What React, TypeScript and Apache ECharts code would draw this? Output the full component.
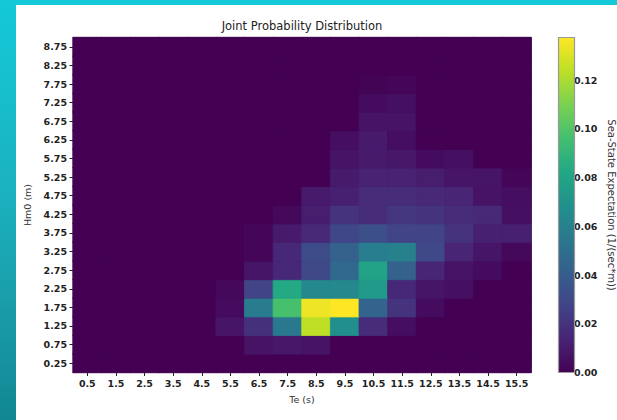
import React, { useEffect, useRef } from "react";
import * as echarts from "echarts";

// Te (s) categories
const teCats = ["0.5", "1.5", "2.5", "3.5", "4.5", "5.5", "6.5", "7.5", "8.5", "9.5", "10.5", "11.5", "12.5", "13.5", "14.5", "15.5"];
// Hm0 (m) categories
const hmCats = ["0.25", "0.75", "1.25", "1.75", "2.25", "2.75", "3.25", "3.75", "4.25", "4.75", "5.25", "5.75", "6.25", "6.75", "7.25", "7.75", "8.25", "8.75"];

// Sea-state expectation per Hm0 row (columns follow teCats)
const hm025 = [0, 0, 0, 0, 0, 0, 0, 0, 0, 0, 0, 0, 0, 0, 0, 0];
const hm075 = [0, 0, 0, 0, 0, 0, 0.007, 0.009, 0.007, 0, 0, 0, 0, 0, 0, 0];
const hm125 = [0, 0, 0, 0, 0, 0.008, 0.019, 0.055, 0.124, 0.068, 0.017, 0.005, 0, 0, 0, 0];
const hm175 = [0, 0, 0, 0, 0, 0.004, 0.057, 0.097, 0.134, 0.1375, 0.044, 0.02, 0.004, 0, 0, 0];
const hm225 = [0, 0, 0, 0, 0, 0.003, 0.028, 0.083, 0.064, 0.064, 0.074, 0.015, 0.008, 0.006, 0, 0];
const hm275 = [0, 0, 0, 0, 0, 0, 0.008, 0.015, 0.03, 0.047, 0.079, 0.043, 0.014, 0.007, 0.004, 0];
const hm325 = [0, 0, 0, 0, 0, 0, 0.002, 0.015, 0.031, 0.043, 0.058, 0.06, 0.03, 0.014, 0.008, 0.003];
const hm375 = [0, 0, 0, 0, 0, 0, 0.002, 0.01, 0.016, 0.029, 0.033, 0.028, 0.028, 0.02, 0.012, 0.012];
const hm425 = [0, 0, 0, 0, 0, 0, 0, 0.003, 0.011, 0.02, 0.017, 0.022, 0.02, 0.017, 0.016, 0.006];
const hm475 = [0, 0, 0, 0, 0, 0, 0, 0, 0.01, 0.012, 0.017, 0.017, 0.016, 0.014, 0.007, 0.005];
const hm525 = [0, 0, 0, 0, 0, 0, 0, 0, 0, 0.01, 0.013, 0.013, 0.011, 0.008, 0.008, 0.002];
const hm575 = [0, 0, 0, 0, 0, 0, 0, 0, 0, 0.007, 0.01, 0.009, 0.004, 0.006, 0, 0];
const hm625 = [0, 0, 0, 0, 0, 0, 0, 0, 0, 0.005, 0.01, 0.005, 0, 0, 0, 0];
const hm675 = [0, 0, 0, 0, 0, 0, 0, 0, 0, 0, 0.007, 0.007, 0, 0, 0, 0];
const hm725 = [0, 0, 0, 0, 0, 0, 0, 0, 0, 0, 0.004, 0.006, 0, 0, 0, 0];
const hm775 = [0, 0, 0, 0, 0, 0, 0, 0, 0, 0, 0.001, 0.002, 0, 0, 0, 0];
const hm825 = [0, 0, 0, 0, 0, 0, 0, 0, 0, 0, 0, 0, 0, 0, 0, 0];
const hm875 = [0, 0, 0, 0, 0, 0, 0, 0, 0, 0, 0, 0, 0, 0, 0, 0];

const rows = [hm025, hm075, hm125, hm175, hm225, hm275, hm325, hm375, hm425, hm475, hm525, hm575, hm625, hm675, hm725, hm775, hm825, hm875];

// colour bar
const cbMin = 0;
const cbMax = 0.1375;
const cbTicks = [0, 0.02, 0.04, 0.06, 0.08, 0.1, 0.12];
const viridis = ["#440154", "#482475", "#414487", "#355f8d", "#2a788e", "#21918c", "#22a884", "#44bf70", "#7ad151", "#bddf26", "#fde725"];

const FONT = "DejaVu Sans";

export default function App() {
  const ref = useRef<HTMLDivElement>(null);

  useEffect(() => {
    if (!ref.current) return;
    const chart = echarts.init(ref.current, null, { renderer: "svg" });

    const data: any[] = [];
    rows.forEach((row, yi) =>
      row.forEach((v, xi) => {
        const t = Math.max(0, Math.min(1, (v - cbMin) / (cbMax - cbMin)));
        const edge = echarts.color.lerp(t, viridis);
        data.push({ value: [xi, yi, v], itemStyle: { borderColor: edge, borderWidth: 0.8 } });
      })
    );

    const plot = { left: 73, top: 37.5, width: 458, height: 335 };
    const cb = { left: 558.5, top: 37.5, width: 16, height: 335 };

    const tickLabel = { fontFamily: FONT, fontWeight: "bold" as const, fontSize: 9.5, color: "#222" };
    const nameStyle = { fontFamily: FONT, fontSize: 9.5, color: "#333" };
    const edgeLine = { show: true, lineStyle: { color: "#555", width: 1 } };

    chart.setOption({
      animation: false,
      backgroundColor: "transparent",
      title: {
        text: "Joint Probability Distribution",
        left: plot.left + plot.width / 2,
        textAlign: "center",
        top: 20,
        padding: 0,
        textStyle: { fontFamily: FONT, fontSize: 11.5, fontWeight: "normal", color: "#222" },
      },
      grid: [
        { ...plot, show: true, backgroundColor: viridis[0], borderWidth: 0 },
        { ...cb },
      ],
      xAxis: [
        {
          type: "category",
          gridIndex: 0,
          data: teCats,
          axisLine: edgeLine,
          axisTick: { show: true, alignWithLabel: true, length: 3.5, lineStyle: { color: "#222" } },
          axisLabel: { ...tickLabel, margin: 6, interval: 0 },
          splitLine: { show: false },
          name: "Te (s)",
          nameLocation: "middle",
          nameGap: 22,
          nameTextStyle: nameStyle,
        },
        {
          type: "category",
          gridIndex: 0,
          position: "top",
          data: teCats,
          axisLine: edgeLine,
          axisTick: { show: false },
          axisLabel: { show: false },
        },
        { type: "value", gridIndex: 1, show: false, min: 0, max: 1 },
      ],
      yAxis: [
        {
          type: "category",
          gridIndex: 0,
          data: hmCats,
          axisLine: edgeLine,
          axisTick: { show: true, alignWithLabel: true, length: 3.5, lineStyle: { color: "#222" } },
          axisLabel: { ...tickLabel, margin: 6, interval: 0 },
          splitLine: { show: false },
          name: "Hm0 (m)",
          nameLocation: "middle",
          nameGap: 28,
          nameTextStyle: nameStyle,
        },
        {
          type: "category",
          gridIndex: 0,
          position: "right",
          data: hmCats,
          axisLine: edgeLine,
          axisTick: { show: false },
          axisLabel: { show: false },
        },
        {
          type: "value",
          gridIndex: 1,
          position: "right",
          min: cbMin,
          max: cbMax,
          axisLine: { show: false },
          axisTick: { show: true, length: 3.5, customValues: cbTicks, lineStyle: { color: "#222" } },
          axisLabel: {
            ...tickLabel,
            margin: 6,
            customValues: cbTicks,
            formatter: (v: number) => v.toFixed(2),
          },
          splitLine: { show: false },
          name: "Sea-State Expectation (1/(sec*m))",
          nameLocation: "middle",
          nameRotate: -90,
          nameGap: 38,
          nameTextStyle: { ...nameStyle, fontSize: 10 },
        },
      ],
      visualMap: {
        show: false,
        type: "continuous",
        min: cbMin,
        max: cbMax,
        seriesIndex: 0,
        inRange: { color: viridis },
      },
      graphic: [
        {
          type: "rect",
          z: 10,
          shape: { x: cb.left, y: cb.top, width: cb.width, height: cb.height },
          style: {
            fill: {
              type: "linear",
              x: 0,
              y: 1,
              x2: 0,
              y2: 0,
              colorStops: viridis.map((c, i) => ({ offset: i / (viridis.length - 1), color: c })),
            },
            stroke: "#999",
            lineWidth: 1.2,
          },
        },
      ],
      series: [
        {
          type: "heatmap",
          xAxisIndex: 0,
          yAxisIndex: 0,
          data,
          emphasis: { disabled: true },
        },
      ],
    });

    return () => chart.dispose();
  }, []);

  return (
    <div
      style={{
        position: "fixed",
        left: 0,
        top: 0,
        width: 617,
        height: 420,
        overflow: "hidden",
        background: "linear-gradient(to bottom, #14c9d8 0%, #1bb2c0 45%, #1a9fab 70%, #118793 100%)",
      }}
    >
      <div style={{ position: "absolute", left: 16, top: 5, right: 0, bottom: 0, background: "#ffffff" }} />
      <div ref={ref} style={{ position: "absolute", left: 0, top: 0, width: 617, height: 420 }} />
    </div>
  );
}
